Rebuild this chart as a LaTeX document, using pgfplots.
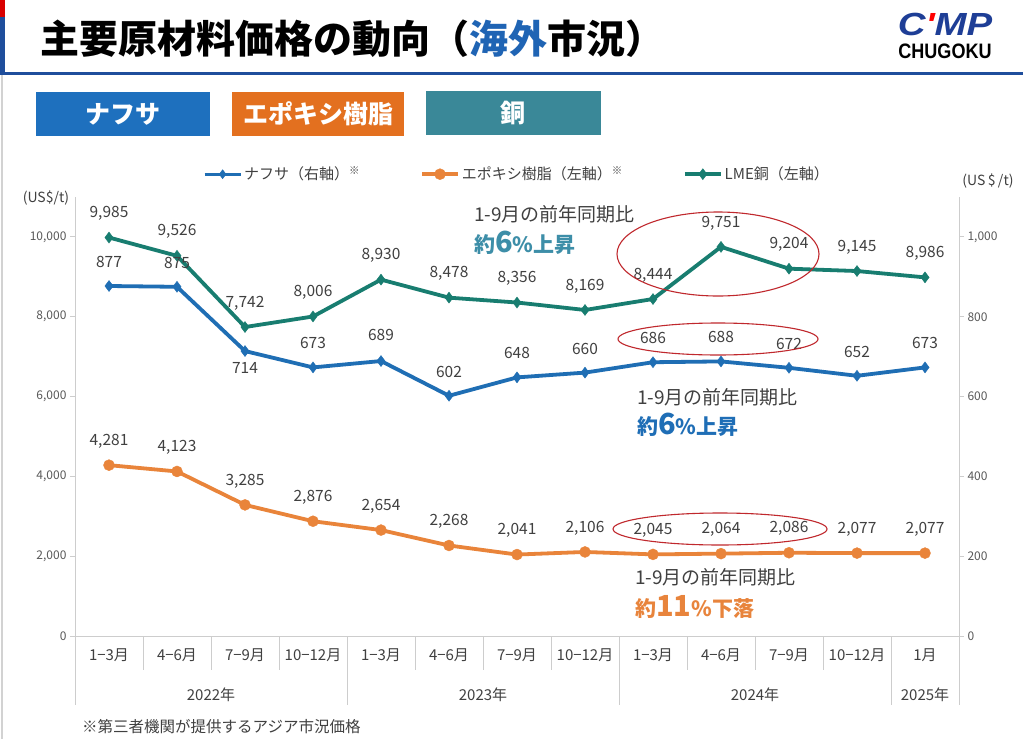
\documentclass[border=0pt]{standalone}
\usepackage{fontspec}
\setmainfont{Noto Sans CJK JP}
\newfontfamily\logofont{Liberation Sans}
\usepackage{pgfplots}
\usepackage{pgfplotstable}
\pgfplotsset{compat=1.18}
\definecolor{naph}{RGB}{31,110,180}
\definecolor{epoxy}{RGB}{233,132,58}
\definecolor{copper}{RGB}{24,125,112}
\definecolor{boxblue}{RGB}{30,112,190}
\definecolor{boxorange}{RGB}{227,112,31}
\definecolor{boxteal}{RGB}{58,136,152}
\definecolor{annteal}{RGB}{61,142,168}
\definecolor{annblue}{RGB}{31,110,182}
\definecolor{annorange}{RGB}{232,132,60}
\definecolor{axisgray}{RGB}{205,205,205}
\definecolor{labgray}{RGB}{64,64,64}
\definecolor{tickgray}{RGB}{89,89,89}
\definecolor{titleblue}{RGB}{31,100,180}
\definecolor{linenavy}{RGB}{31,78,156}
\definecolor{ellred}{RGB}{192,40,45}
\definecolor{logoblue}{RGB}{30,62,150}

\pgfkeys{/pgf/number format/.cd,1000 sep={,},assume math mode=true}

\pgfplotstableread{
x y dy
0 877 24
1 875 24
2 714 -17
3 673 24
4 689 26
5 602 24
6 648 24
7 660 24
8 686 24
9 688 24
10 672 24
11 652 24
12 673 24
}\naphtha
\pgfplotstableread{
x y
0 4281
1 4123
2 3285
3 2876
4 2654
5 2268
6 2041
7 2106
8 2045
9 2064
10 2086
11 2077
12 2077
}\epoxy
\pgfplotstableread{
x y
0 9985
1 9526
2 7742
3 8006
4 8930
5 8478
6 8356
7 8169
8 8444
9 9751
10 9204
11 9145
12 8986
}\copper

\pgfplotsset{
  base/.style={
    at={(75pt,-636pt)}, anchor=south west, scale only axis,
    width=884pt, height=439pt, xmin=-0.5, xmax=12.5, ymin=0, clip=false,
    axis line style={draw=axisgray, line width=0.9pt},
    tick align=outside, major tick length=5pt, tick style={draw=axisgray, line width=0.9pt},
    yticklabel style={font=\fontsize{12}{12}\selectfont, text=tickgray},
    scaled y ticks=false,
    /pgf/number format/1000 sep={,}, /pgf/number format/assume math mode=true,
  },
  lbl/.style={nodes near coords, nodes near coords style={font=\fontsize{15.5}{15.5}\selectfont, text=labgray, anchor=center, yshift=24pt}},
}

\begin{document}
\begin{tikzpicture}
\path[use as bounding box] (0,0) rectangle (1023pt,-739pt);
\fill[white] (0,0) rectangle (1023pt,-739pt);
% header frame
\fill[linenavy] (0,-72pt) rectangle (1023pt,-75pt);
\fill[red!85!black] (0,0) rectangle (5pt,-17pt);
\fill[linenavy] (0,-17pt) rectangle (5pt,-75pt);
\draw[gray!35, line width=1.2pt] (2pt,-75pt) -- (2pt,-739pt);
% title
\node[anchor=west, inner sep=0, font=\bfseries\fontsize{39}{39}\selectfont] at (40pt,-39pt) {主要原材料価格の動向（\textcolor{titleblue}{海外}市況）};
% logo
\node[inner sep=0, text=logoblue, font=\logofont\bfseries\itshape\fontsize{32}{32}\selectfont, xscale=1.2] at (945pt,-24pt) {C\textcolor{red}{'}MP};
\node[inner sep=0, font=\logofont\bfseries\fontsize{19}{19}\selectfont, xscale=0.95, yscale=1.1] at (945pt,-51pt) {CHUGOKU};
% boxes
\fill[boxblue] (36pt,-92pt) rectangle (210pt,-136pt);
\node[text=white, font=\bfseries\fontsize{25}{25}\selectfont] at (123pt,-114pt) {ナフサ};
\fill[boxorange] (232pt,-92pt) rectangle (404pt,-136pt);
\node[text=white, font=\bfseries\fontsize{25}{25}\selectfont] at (318pt,-114pt) {エポキシ樹脂};
\fill[boxteal] (426pt,-91pt) rectangle (601pt,-135pt);
\node[text=white, font=\bfseries\fontsize{25}{25}\selectfont] at (513pt,-113pt) {銅};

% left axis
\begin{axis}[base, ymax=11000,
  axis y line*=left, axis x line*=bottom,
  ytick={0,2000,4000,6000,8000,10000},
  xtick={0,...,12},
  xticklabels={1−3月,4−6月,7−9月,10−12月,1−3月,4−6月,7−9月,10−12月,1−3月,4−6月,7−9月,10−12月,1月},
  x tick style={draw=none},
  xticklabel style={font=\fontsize{15}{15}\selectfont, text=labgray, anchor=center, yshift=-14pt},
  legend columns=3,
  legend style={at={(axis description cs:0.5,1.052)}, anchor=center, draw=none, fill=none,
    font=\fontsize{15}{15}\selectfont, text=labgray,
    /tikz/every even column/.append style={column sep=58pt}},
  legend image code/.code={\draw[mark repeat=2,mark phase=2,#1] plot coordinates {(0pt,0pt) (18pt,0pt) (36pt,0pt)};},
]
\addlegendimage{naph, line width=3pt, mark=diamond*, mark size=4.5pt, mark options={solid, line width=0.4pt, fill=naph}}
\addlegendentry{ナフサ（右軸）\textsuperscript{※}}
\addplot[epoxy, line width=3.8pt, mark=*, mark size=5.5pt, mark options={solid, line width=0.4pt, fill=epoxy}, lbl] table[x=x,y=y] {\epoxy};
\addlegendentry{エポキシ樹脂（左軸）\textsuperscript{※}}
\addplot[copper, line width=3.8pt, mark=diamond*, mark size=5.5pt, mark options={solid, line width=0.4pt, fill=copper}, lbl] table[x=x,y=y] {\copper};
\addlegendentry{LME銅（左軸）}
% category separators
\pgfplotsinvokeforeach{0.5,1.5,2.5,4.5,5.5,6.5,8.5,9.5,10.5}{
  \draw[axisgray, line width=0.9pt] (axis cs:#1,0) -- ++(0pt,-34pt);
}
\pgfplotsinvokeforeach{-0.5,3.5,7.5,11.5,12.5}{
  \draw[axisgray, line width=0.9pt] (axis cs:#1,0) -- ++(0pt,-69pt);
}
\node[font=\fontsize{15}{15}\selectfont, text=labgray] at (axis cs:1.5,0) [yshift=-59pt] {2022年};
\node[font=\fontsize{15}{15}\selectfont, text=labgray] at (axis cs:5.5,0) [yshift=-59pt] {2023年};
\node[font=\fontsize{15}{15}\selectfont, text=labgray] at (axis cs:9.5,0) [yshift=-59pt] {2024年};
\node[font=\fontsize{15}{15}\selectfont, text=labgray] at (axis cs:12,0) [yshift=-59pt] {2025年};
\end{axis}

% right axis
\begin{axis}[base, ymax=1100,
  axis y line*=right, axis x line=none,
  ytick={0,200,400,600,800,1000}, xtick=\empty,
  yticklabel style={font=\fontsize{12}{12}\selectfont, text=tickgray},
]
\addplot[naph, line width=3.8pt, mark=diamond*, mark size=5.5pt, mark options={solid, line width=0.4pt, fill=naph},
  visualization depends on={\thisrow{dy} \as \labdy},
  nodes near coords, nodes near coords style={font=\fontsize{15.5}{15.5}\selectfont, text=labgray, anchor=center, yshift=\labdy}] table[x=x,y=y] {\naphtha};
\end{axis}

% unit labels
\node[text=labgray, font=\fontsize{14}{14}\selectfont] at (46pt,-198pt) {(US\$/t)};
\node[text=labgray, font=\fontsize{14}{14}\selectfont] at (988pt,-181pt) {(US\,\$\,/t)};

% ellipses
\draw[ellred, line width=1.1pt] (718pt,-254pt) ellipse [x radius=101pt, y radius=42pt];
\draw[ellred, line width=1.1pt] (718pt,-339pt) ellipse [x radius=100pt, y radius=16pt];
\draw[ellred, line width=1.1pt] (720pt,-529pt) ellipse [x radius=107pt, y radius=16pt];

% annotations
\node[anchor=west, inner sep=0, text=labgray, font=\fontsize{19}{19}\selectfont] at (474pt,-214pt) {1-9月の前年同期比};
\node[anchor=west, inner sep=0, text=annteal, font=\bfseries\fontsize{21}{21}\selectfont] at (474pt,-243pt) {約{\fontsize{29}{29}\selectfont 6}\%上昇};
\node[anchor=west, inner sep=0, text=labgray, font=\fontsize{19}{19}\selectfont] at (637pt,-397pt) {1-9月の前年同期比};
\node[anchor=west, inner sep=0, text=annblue, font=\bfseries\fontsize{21}{21}\selectfont] at (637pt,-425pt) {約{\fontsize{29}{29}\selectfont 6}\%上昇};
\node[anchor=west, inner sep=0, text=labgray, font=\fontsize{19}{19}\selectfont] at (635pt,-577pt) {1-9月の前年同期比};
\node[anchor=west, inner sep=0, text=annorange, font=\bfseries\fontsize{21}{21}\selectfont] at (635pt,-607pt) {約{\fontsize{29}{29}\selectfont 11}\%下落};

% footnote
\node[anchor=west, inner sep=0, text=labgray, font=\fontsize{15.5}{15.5}\selectfont] at (82pt,-727pt) {※第三者機関が提供するアジア市況価格};
\end{tikzpicture}
\end{document}
